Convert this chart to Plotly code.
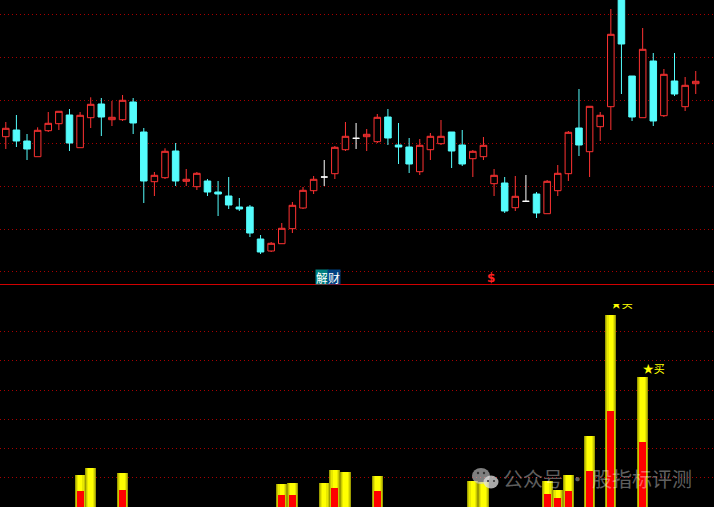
import plotly.graph_objects as go

open_ = [148.3,155,144,128.3,154.3,161.3,170,137.3,167.3,181,165.3,165.3,183,153,103.3,107.3,134,103.7,98.3,104,93,89,78,78,46,34,41.3,56.3,77,94.3,108,111.3,135.3,146.7,148.3,143.3,168,140,138,113.3,135.3,141.3,153,140,126.3,128.3,101.3,102,77.3,83.7,91,71.3,94.3,111.3,157,133.3,158.3,178.3,300,209,167.3,224,169.3,204,178.3,201.3]
close = [156.7,144,136,154.7,161.7,173.7,142,169.7,180.7,168,167.7,184.7,162,104,109.7,133.7,104,105.7,111.7,93,91,80,76,52,33,41.7,56.7,79.7,94.7,105.7,108,137.7,148.7,146.7,150.7,167.7,147,138,121,139.7,148.7,148.7,134,121,133.7,139.7,109.7,74,88.7,83.7,72,103.7,111.7,152.7,140,178.7,169.7,250.7,241,168,235.7,164,210.7,191,199.7,203.7]
high  = [163,170,151,157.7,173,173.7,176,173,187.7,187,184,190,187,157,113,136.7,142,116,113,106,104,108,87,80,50,43,62,83,98,109,125,139,163,162,156,171,176,162,147,146,152,165,153,155,135,148,116,108,109,110,93,105,120,154,196,178.7,173,276,300,209,257,232,216,232,208,214]
low   = [136,138,125,128.3,153,155,134,137.3,157,149,159,164,151,82,89,106,99,99,95,89,69,76,74,48,31,33,41.3,52,76,91,99,106,134,136,134,142,140,121,112,110,125,140,117,119,108,125,89,72,74,83.7,67,71.3,89,104,129,108,144,155,191,164,167.3,159,168,189,174,191]

bar_idx = [7,8,11,26,27,30,31,32,35,44,45,51,52,53,55,57,60]
yellow_vals = [32,39,34,23,24,24,37,35,31,26,25,26,17,32,71,192,130]
red_idx = [7,11,26,27,31,35,51,52,53,55,57,60]
red_vals = [16,17,12,12,19,16,13,9,16,36,96,65]

upper_grid = [270.5,227.5,184.5,141.5,98.5,56,13.5]
lower_grid = [175.5,146.5,116.5,87.5,58.5,29.5]

doji = [i for i in range(len(open_)) if open_[i] == close[i]]
rest = [i for i in range(len(open_)) if open_[i] != close[i]]
pick = lambda a, ix: [a[i] for i in ix]

RED = "#ff3232"
CYAN = "#54fcfc"
W, H = 714, 507
fig = go.Figure()

layers = [(1.04, "#9c9c00"), (0.86, "#c8c800"), (0.66, "#e8e800"), (0.42, "#ffff00")]
for w, col in layers:
    fig.add_trace(go.Bar(x=bar_idx, y=yellow_vals, width=w, marker=dict(color=col, line_width=0),
                         xaxis="x", yaxis="y2", showlegend=False))
fig.add_trace(go.Bar(x=red_idx, y=red_vals, width=0.66, marker=dict(color="#ff0000", line_width=0),
                     xaxis="x", yaxis="y2", showlegend=False))

fig.add_trace(go.Candlestick(
    x=rest, open=pick(open_, rest), high=pick(high, rest), low=pick(low, rest), close=pick(close, rest),
    increasing=dict(line=dict(color=RED, width=1), fillcolor="#000000"),
    decreasing=dict(line=dict(color=CYAN, width=1), fillcolor=CYAN),
    whiskerwidth=0, xaxis="x", yaxis="y", showlegend=False))
fig.add_trace(go.Candlestick(
    x=doji, open=pick(open_, doji), high=pick(high, doji), low=pick(low, doji), close=pick(close, doji),
    increasing=dict(line=dict(color="#ffffff", width=1), fillcolor="#ffffff"),
    decreasing=dict(line=dict(color="#ffffff", width=1), fillcolor="#ffffff"),
    whiskerwidth=0, xaxis="x", yaxis="y", showlegend=False))

# buy signals (the upper one is cut by the panel's top edge)
sig_x = [57, 60]
sig_y = [202, 137]
fig.add_trace(go.Scatter(x=sig_x, y=sig_y, mode="text", text=["★买", "★买"],
                         textposition="middle right", cliponaxis=True,
                         textfont=dict(family="Noto Sans CJK SC", size=11, color="#ffff00"),
                         xaxis="x", yaxis="y2", showlegend=False))

# markers on the divider
fig.add_annotation(x=29.79, y=8, xref="x", yref="y", text="解", showarrow=False, bgcolor="#008080",
                   width=12, height=14, borderpad=0,
                   font=dict(family="Noto Sans CJK SC", size=12, color="#ffffff"))
fig.add_annotation(x=30.92, y=8, xref="x", yref="y", text="财", showarrow=False, bgcolor="#004080",
                   width=12, height=14, borderpad=0,
                   font=dict(family="Noto Sans CJK SC", size=12, color="#ffffff"))
fig.add_annotation(x=45.7, y=7, xref="x", yref="y", text="<b>$</b>", showarrow=False,
                   font=dict(family="DejaVu Sans", size=12, color="#ff2020"))

# watermark
fig.add_annotation(x=597.5 / W, y=1 - 478 / H, xref="paper", yref="paper", xanchor="center", yanchor="middle",
                   text="公众号 · 股指标评测", showarrow=False,
                   font=dict(family="Noto Sans CJK SC", size=20, color="rgba(255,255,255,0.38)"))

def circ(cx, cy, rx, ry, col):
    return dict(type="circle", xref="paper", yref="paper", x0=(cx - rx) / W, x1=(cx + rx) / W,
                y0=1 - (cy + ry) / H, y1=1 - (cy - ry) / H, fillcolor=col, line_width=0, layer="above")

wm = "rgba(205,205,205,0.62)"
shapes = [circ(481, 476, 9, 8, wm), circ(491, 482, 7.5, 6.5, "rgba(225,225,225,0.75)"),
          circ(478, 473, 1.2, 1.2, "#333333"), circ(484, 473, 1.2, 1.2, "#333333"),
          circ(488, 481, 1, 1, "#333333"), circ(494, 481, 1, 1, "#333333"),
          dict(type="line", xref="paper", yref="paper", x0=0, x1=1, y0=1 - 284.5 / H, y1=1 - 284.5 / H,
               line=dict(color="#d00000", width=1), layer="above")]

grid = dict(showgrid=True, gridcolor="#a80000", gridwidth=1, griddash="1px,3px", zeroline=False,
            showticklabels=False, ticks="", showline=False, fixedrange=True)
fig.update_layout(
    width=W, height=H, autosize=False,
    margin=dict(l=0, r=0, t=0, b=0),
    paper_bgcolor="#000000", plot_bgcolor="rgba(0,0,0,0)",
    barmode="overlay", boxgap=0.12, bargap=0, showlegend=False, shapes=shapes,
    xaxis=dict(range=[-0.546, 66.72], domain=[0, 1], showgrid=False, zeroline=False, showticklabels=False,
               ticks="", rangeslider=dict(visible=False), fixedrange=True, anchor="y2"),
    yaxis=dict(range=[0, 285], domain=[222 / H, 1], tickmode="array", tickvals=upper_grid, **grid),
    yaxis2=dict(range=[0, 203], domain=[0, 203 / H], tickmode="array", tickvals=lower_grid, **grid),
)
fig.write_html("out.html", config={"displayModeBar": False},
               post_script="document.body.style.margin='0';document.body.style.background='#000';")
